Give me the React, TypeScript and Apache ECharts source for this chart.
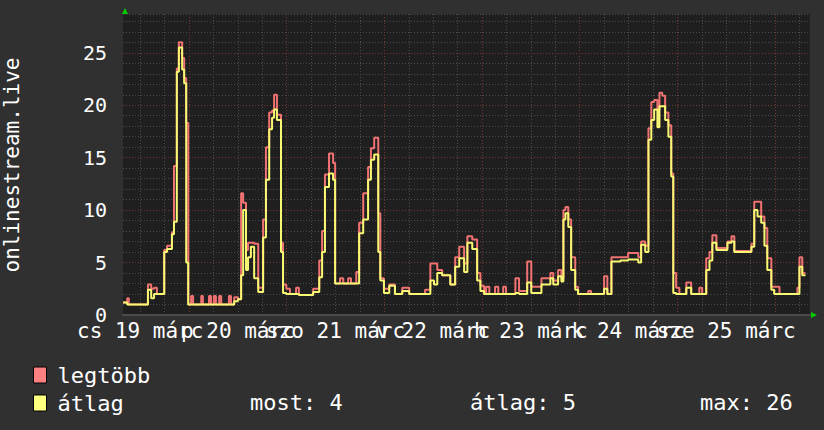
import React, { useEffect, useRef } from "react";
import * as echarts from "echarts";

// time in hours since 19 márc 00:00
const hours = [7.8, 8.8, 9.2, 13.9, 14.7, 15.4, 16.1, 17.9, 18.6, 19.8, 20.3, 21.0, 21.5, 22.3, 22.8, 23.3, 23.8, 24.5, 25.0, 27.0, 27.4, 28.9, 29.4, 30.1, 30.6, 31.4, 31.9, 33.8, 34.3, 35.1, 36.0, 36.8, 37.3, 38.0, 38.5, 39.2, 40.0, 41.0, 42.2, 42.9, 43.7, 44.4, 44.9, 45.6, 46.6, 47.1, 47.9, 48.8, 50.3, 51.0, 54.5, 56.0, 56.7, 57.4, 58.4, 59.4, 59.9, 61.1, 61.9, 63.1, 63.8, 65.1, 65.8, 66.8, 68.0, 68.7, 69.5, 70.5, 71.0, 71.9, 73.2, 74.6, 76.4, 78.1, 82.0, 83.3, 84.2, 85.0, 86.2, 88.2, 89.4, 90.4, 91.6, 92.4, 93.6, 94.8, 95.6, 96.5, 97.0, 97.8, 99.2, 100.0, 101.2, 101.9, 104.2, 105.1, 107.1, 108.1, 110.6, 112.8, 113.5, 114.7, 115.5, 116.0, 116.5, 117.2, 117.9, 118.9, 119.6, 122.1, 122.8, 126.0, 126.8, 127.8, 130.0, 131.9, 134.4, 135.1, 136.1, 136.9, 137.6, 138.3, 139.1, 139.6, 140.3, 141.0, 141.8, 142.5, 143.0, 143.7, 144.5, 146.2, 147.4, 149.4, 150.1, 151.1, 151.9, 152.6, 153.6, 156.3, 157.3, 158.0, 162.2, 162.9, 163.7, 164.6, 165.4, 166.1, 167.1, 167.8, 169.1, 173.5, 174.0, 174.7, 175.5];

const maxValues = [1.2, 1.6, 1.0, 2.9, 2.5, 2.6, 2.0, 6.2, 6.6, 7.9, 14.2, 23.5, 26.0, 24.5, 22.6, 18.3, 1.0, 1.8, 1.0, 1.8, 1.0, 1.8, 1.0, 1.8, 1.0, 1.8, 1.0, 1.8, 1.0, 1.7, 1.5, 11.6, 10.7, 6.2, 6.9, 6.9, 6.8, 2.6, 9.1, 16.0, 19.3, 19.5, 21.0, 19.1, 6.9, 2.9, 2.5, 2.0, 2.6, 1.9, 2.5, 5.2, 8.0, 13.4, 15.4, 14.5, 3.0, 3.5, 3.0, 3.5, 3.0, 4.1, 8.8, 11.6, 14.1, 15.9, 16.9, 9.7, 3.5, 2.5, 2.9, 2.0, 2.6, 2.0, 2.4, 4.9, 4.9, 4.3, 3.8, 2.9, 5.5, 6.5, 4.9, 7.5, 7.2, 4.0, 2.8, 2.0, 2.7, 2.0, 2.7, 2.0, 2.7, 2.0, 3.5, 2.3, 5.1, 2.7, 3.5, 4.0, 3.3, 4.3, 3.5, 10.0, 10.3, 9.1, 5.5, 2.7, 2.0, 2.3, 2.0, 3.7, 2.0, 5.5, 5.5, 5.9, 5.5, 7.0, 6.6, 17.8, 20.3, 20.5, 19.6, 21.2, 20.9, 19.3, 18.1, 13.5, 4.0, 2.6, 2.0, 3.1, 2.0, 2.6, 2.0, 5.4, 6.0, 7.6, 6.4, 7.0, 7.5, 6.1, 6.8, 10.8, 10.8, 9.4, 8.3, 5.4, 2.7, 2.7, 2.0, 2.6, 5.5, 4.0, 4.0];

const avgValues = [1.2, 1.0, 1.0, 2.4, 1.6, 2.0, 2.0, 6.0, 6.3, 7.7, 8.9, 23.2, 25.5, 23.4, 22.1, 5.0, 1.0, 1.0, 1.0, 1.0, 1.0, 1.0, 1.0, 1.0, 1.0, 1.0, 1.0, 1.0, 1.0, 1.3, 1.5, 3.8, 10.0, 4.3, 5.5, 6.5, 3.5, 2.2, 7.4, 12.9, 17.7, 18.8, 19.6, 18.6, 6.0, 2.1, 2.0, 2.0, 2.0, 1.9, 2.2, 3.6, 6.0, 12.2, 13.5, 12.9, 3.0, 3.0, 3.0, 3.0, 3.0, 3.0, 7.8, 9.1, 12.9, 14.8, 15.3, 6.0, 3.3, 2.1, 2.8, 2.0, 2.3, 2.0, 2.0, 3.3, 2.9, 4.0, 3.8, 2.9, 4.6, 5.4, 4.1, 6.9, 6.3, 3.3, 2.3, 2.0, 2.0, 2.0, 2.0, 2.0, 2.0, 2.0, 2.1, 2.0, 3.1, 2.1, 2.9, 3.5, 2.9, 3.7, 3.2, 9.1, 9.7, 8.4, 4.3, 2.4, 2.0, 2.0, 2.0, 2.5, 2.0, 5.1, 5.2, 5.3, 5.0, 6.7, 6.0, 16.7, 18.6, 19.6, 17.9, 19.9, 19.9, 18.6, 17.0, 13.2, 2.1, 2.0, 2.0, 2.6, 2.0, 2.0, 2.0, 4.3, 5.2, 6.9, 6.2, 6.9, 7.0, 6.0, 6.5, 10.0, 9.4, 8.8, 6.6, 4.3, 2.4, 2.0, 2.0, 2.0, 4.6, 3.8, 3.8];

const dayLabelHours = [12, 36, 60, 84, 108, 132, 156];
const dayLabels = ["cs 19 márc", "p 20 márc", "szo 21 márc", "v 22 márc", "h 23 márc", "k 24 márc", "sze 25 márc"];
const dayBoundaryHours = [24, 48, 72, 96, 120, 144, 168];
const majorYValues = [5, 10, 15, 20, 25];
const seriesNames = ["legtöbb", "átlag"];
const statTexts = ["most: 4", "átlag: 5", "max: 26"];
const axisName = "onlinestream.live";

const X_MIN = 7.77;
const X_MAX = 176.6;
const Y_MAX = 28.7;
const FONT = "'DejaVu Sans Mono', monospace";

export default function App() {
  const ref = useRef<HTMLDivElement>(null);
  useEffect(() => {
    if (!ref.current) return;
    const chart = echarts.init(ref.current, null, { renderer: "svg" });
    const minorHours: number[] = [];
    for (let h = 12; h < X_MAX; h += 6) if (!dayBoundaryHours.includes(h)) minorHours.push(h);

    const maxData = hours.map((h, i) => [h, maxValues[i]]);
    const avgData = hours.map((h, i) => [h, avgValues[i]]);

    const evenHours = dayLabelHours.filter((_, i) => i % 2 === 0);
    const oddHours = dayLabelHours.filter((_, i) => i % 2 === 1);
    const labelFormatter = (v: number) => {
      const i = dayLabelHours.indexOf(Math.round(v));
      return i >= 0 ? dayLabels[i] : "";
    };
    const makeXAxis = (values: number[], showLine: boolean) => ({
      type: "value",
      min: X_MIN,
      max: X_MAX,
      position: "bottom",
      offset: 0,
      splitLine: { show: false },
      axisTick: { show: false },
      axisLine: { show: showLine, lineStyle: { color: "#4a4a4a", width: 2 } },
      axisLabel: {
        customValues: values,
        showMinLabel: true,
        showMaxLabel: true,
        formatter: labelFormatter,
        color: "#ffffff",
        fontSize: 21,
        fontFamily: FONT,
        margin: 5,
        hideOverlap: false,
      },
    });

    chart.setOption({
      animation: false,
      backgroundColor: "#303030",
      grid: {
        left: 123,
        right: 14,
        top: 14,
        bottom: 115,
        show: true,
        backgroundColor: "#1f1f1f",
        borderWidth: 0,
        containLabel: false,
      },
      legend: {
        orient: "vertical",
        left: 33,
        top: 364,
        padding: 0,
        itemWidth: 13,
        itemHeight: 16,
        itemGap: 6,
        icon: "rect",
        textStyle: { color: "#ffffff", fontSize: 22, fontFamily: FONT, padding: [0, 0, 0, 6] },
        data: [
          { name: seriesNames[0], itemStyle: { color: "#ff8080", borderColor: "#000", borderWidth: 1 } },
          { name: seriesNames[1], itemStyle: { color: "#ffff80", borderColor: "#000", borderWidth: 1 } },
        ],
        selectedMode: false,
      },
      xAxis: [makeXAxis(evenHours, true), makeXAxis(oddHours, false)],
      yAxis: {
        type: "value",
        min: 0,
        max: Y_MAX,
        interval: 1,
        axisLine: { show: false },
        axisTick: { show: false },
        splitLine: { show: true, lineStyle: { color: "#4c4c4c", type: [1, 2], width: 1 } },
        axisLabel: {
          formatter: (v: number) => (Math.abs(v % 5) < 1e-6 ? String(v) : ""),
          color: "#ffffff",
          fontSize: 20,
          fontFamily: FONT,
          margin: 16,
        },
      },
      graphic: [
        {
          type: "text",
          x: 12,
          y: 165,
          rotation: Math.PI / 2,
          style: {
            text: axisName,
            fill: "#ffffff",
            font: `21px ${FONT}`,
            align: "center",
            verticalAlign: "middle",
          },
        },
        { type: "polygon", shape: { points: [[122, 14], [128, 14], [125, 8]] }, style: { fill: "#00cc00" } },
        { type: "polygon", shape: { points: [[811, 312], [811, 318], [817, 315]] }, style: { fill: "#00cc00" } },
        { type: "text", x: 250, y: 402, style: { text: statTexts[0], fill: "#fff", font: `22px ${FONT}`, verticalAlign: "middle" } },
        { type: "text", x: 470, y: 402, style: { text: statTexts[1], fill: "#fff", font: `22px ${FONT}`, verticalAlign: "middle" } },
        { type: "text", x: 700, y: 402, style: { text: statTexts[2], fill: "#fff", font: `22px ${FONT}`, verticalAlign: "middle" } },
      ],
      series: [
        {
          name: "grid",
          type: "line",
          data: [],
          z: 1,
          silent: true,
          markLine: {
            silent: true,
            symbol: "none",
            label: { show: false },
            animation: false,
            data: [
              ...minorHours.map((h) => ({ xAxis: h, lineStyle: { color: "#4c4c4c", type: [1, 2], width: 1 } })),
              ...dayBoundaryHours.map((h) => ({ xAxis: h, lineStyle: { color: "#7a3535", type: [1, 2], width: 1 } })),
              ...majorYValues.map((v) => ({ yAxis: v, lineStyle: { color: "#7a3535", type: [1, 2], width: 1 } })),
            ],
          },
        },
        {
          name: seriesNames[0],
          type: "line",
          step: "end",
          data: maxData,
          showSymbol: false,
          z: 10,
          lineStyle: { color: "#f07272", width: 2 },
          itemStyle: { color: "#ff8080" },
        },
        {
          name: seriesNames[1],
          type: "line",
          step: "end",
          data: avgData,
          showSymbol: false,
          z: 11,
          lineStyle: { color: "#f8f872", width: 2 },
          itemStyle: { color: "#ffff80" },
        },
      ],
    });
    return () => chart.dispose();
  }, []);
  return <div ref={ref} style={{ width: 824, height: 430, position: "absolute", left: 0, top: 0 }} />;
}
